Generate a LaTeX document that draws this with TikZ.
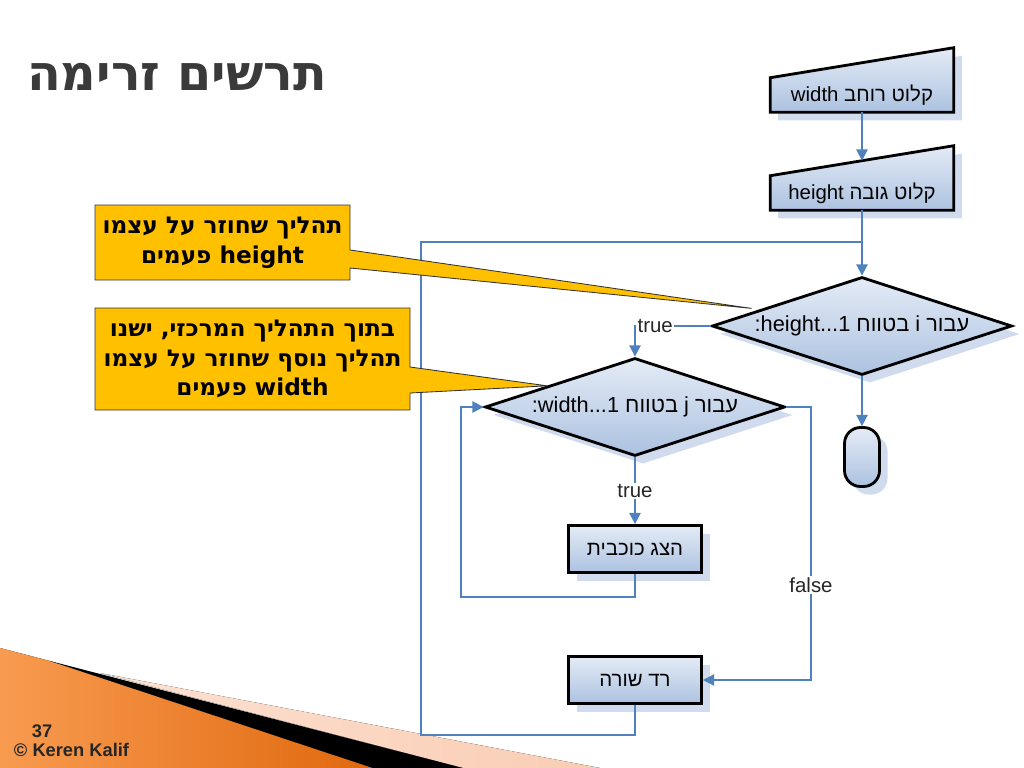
\documentclass[tikz,border=0pt]{standalone}
\usepackage{fontspec}
\setmainfont{Liberation Sans}
\newfontfamily\heb[Script=Hebrew]{Liberation Sans}
\newfontfamily\calfont[Script=Hebrew]{DejaVu Sans}
\usetikzlibrary{shapes.geometric,arrows.meta,calc,shadows,backgrounds}
\TeXXeTstate=1
\newlength\ux \setlength\ux{0.025cm}
\definecolor{flowblue}{RGB}{79,129,189}
\definecolor{boxtop}{RGB}{228,235,246}
\definecolor{boxbot}{RGB}{172,194,224}
\definecolor{shadowc}{RGB}{208,220,237}
\definecolor{callfill}{RGB}{255,192,0}
\definecolor{titlegray}{RGB}{58,58,58}
\definecolor{orangeL}{RGB}{248,155,80}
\definecolor{orangeD}{RGB}{224,104,14}
\definecolor{peach}{RGB}{250,205,180}
\tikzset{
 fshad/.style={drop shadow={shadow xshift=8\ux, shadow yshift=-8\ux, fill=shadowc, opacity=1}},
 fshape/.style={draw=black, line width=2pt, top color=boxtop, bottom color=boxbot, fshad},
 ftext/.style={font=\fontsize{14.5}{17}\selectfont},
 fnode/.style={fshape, ftext, inner sep=0pt},
 procbox/.style={fnode, rectangle, minimum width=133\ux, minimum height=47\ux},
 decis/.style={fnode, diamond, aspect=3.2, minimum width=300\ux, minimum height=98\ux, font=\fontsize{15.5}{18}\selectfont},
 inbox/.style={ftext, rectangle, inner sep=0pt, minimum width=183\ux, minimum height=34\ux},
 flow/.style={draw=flowblue, line width=1.3pt, -{Triangle[length=8pt,width=8pt]}},
 fline/.style={draw=flowblue, line width=1.3pt},
 lbl/.style={fill=white, inner sep=1pt, ftext, text=black!85},
 callout/.style={draw=black!80, line width=0.6pt, fill=callfill},
 caltext/.style={font=\calfont\bfseries\fontsize{16.5}{21}\selectfont, align=center},
}
\begin{document}
\begin{tikzpicture}[x=0.025cm, y=-0.025cm]
\useasboundingbox (0,0) rectangle (1024,768);
% bottom-left decoration
\fill[left color=orangeL, right color=orangeD] (0,648) -- (50,661) -- (373,768) -- (0,768) -- cycle;
\fill[left color=peach!60!white, right color=peach] (100,673) -- (600,768) -- (463,768) -- cycle;
\fill[black] (50,661) -- (463,768) -- (373,768) -- cycle;
\node[font=\bfseries\fontsize{13}{15}\selectfont, text=black!85, anchor=west] (pg) at (27,731) {37};
\node[font=\bfseries\fontsize{13}{15}\selectfont, text=black!85, anchor=west] (copy) at (9,750) {© Keren Kalif};
% title
\node[font=\calfont\bfseries\fontsize{35}{40}\selectfont, text=titlegray] (title) at (177,77) {\beginR תרשים זרימה\endR};
% inputs
\node[inbox] (in1) at (862,95) {width~{\heb\beginR קלוט רוחב\endR}};
\node[inbox] (in2) at (862,193) {height~{\heb\beginR קלוט גובה\endR}};
\begin{scope}[on background layer]
\path[fshape] (in1.south west) -- (in1.south east) -- ($(in1.north east)+(0,-30)$) -- (in1.north west) -- cycle;
\path[fshape] (in2.south west) -- (in2.south east) -- ($(in2.north east)+(0,-30)$) -- (in2.north west) -- cycle;
\end{scope}
\coordinate (in2top) at ($(in2.north)+(0,-15)$);
% decisions and boxes
\node[decis] (d1) at (862,326) {:height...1 {\heb\beginR עבור i בטווח\endR}};
\node[decis] (d2) at (635,407) {:width...1 {\heb\beginR עבור j בטווח\endR}};
\node[fshape, rectangle, rounded corners=16\ux, minimum width=35\ux, minimum height=59\ux] (stop) at (862,457) {};
\node[procbox] (star) at (635,549) {\heb\beginR הצג כוכבית\endR};
\node[procbox] (nl) at (635,680) {\heb\beginR רד שורה\endR};
% connectors
\draw[flow] (in1.south) -- (in2top);
\draw[flow] (in2.south) -- (d1.north);
\draw[flow] (d1.south) -- (stop.north);
\draw[flow] (d1.west) -| (d2.north);
\node[lbl, anchor=west] (t1) at ($(d2.north |- d1.west)+(1,0)$) {true};
\draw[flow] (d2.south) -- (star.north);
\node[lbl] (t2) at (635,491) {true};
\draw[flow] (star.south) |- (461,597) |- (d2.west);
\draw[flow] (d2.east) -| (811,680) -- (nl.east);
\node[lbl] (f1) at (811,585) {false};
\coordinate (outerL) at (421,735);
\coordinate (outerT) at (421,242);
\draw[fline] (nl.south) |- (outerL) -- (outerT) -- (d1.north |- outerT);
% callouts
\coordinate (tip1) at ($(d1.west)!0.27!(d1.north)+(0,-4)$);
\coordinate (tip2) at ($(d2.west)!0.42!(d2.north)$);
\draw[callout] (95,205) -- (350,205) -- (350,250) -- (tip1) -- (350,268) -- (350,280) -- (95,280) -- cycle;
\draw[callout] (95,308) -- (410,308) -- (410,367) -- (tip2) -- (410,393) -- (410,410) -- (95,410) -- cycle;
\node[caltext] (c1) at (222.5,243) {\beginR תהליך שחוזר על עצמו\endR\\\beginR height פעמים\endR};
\node[caltext] (c2) at (252.5,359) {\beginR בתוך התהליך המרכזי\kern0pt, ישנו\endR\\\beginR תהליך נוסף שחוזר על עצמו\endR\\\beginR width פעמים\endR};
\end{tikzpicture}
\end{document}
